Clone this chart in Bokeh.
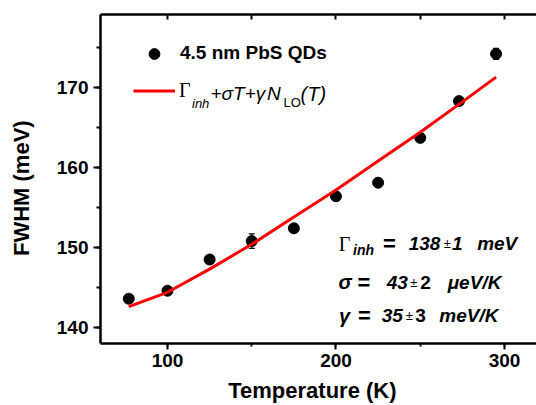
import math
from bokeh.plotting import figure
from bokeh.models import (ColumnDataSource, Range1d, LinearAxis, SingleIntervalTicker,
                          FixedTicker, Whisker, TeeHead, Label, Legend, LegendItem)
from bokeh.embed import file_html
from bokeh.resources import INLINE

# ---- data ----
temperature = [77, 100, 125, 150, 175, 200, 225, 250, 273, 295]
fwhm = [143.6, 144.6, 148.5, 150.8, 152.4, 156.4, 158.1, 163.7, 168.3, 174.2]
fwhm_err = [0.4, 0.4, 0.4, 0.9, 0.4, 0.4, 0.4, 0.4, 0.4, 0.7]
fit_temperature = [77, 100, 125, 150, 175, 200, 225, 250, 275, 295]
fit_fwhm = [142.6, 144.4, 147.3, 150.4, 153.8, 157.2, 160.8, 164.4, 168.2, 171.3]
top_tick_marks = [100, 150, 200, 250, 300]
x_title = "Temperature (K)"
y_title = "FWHM (meV)"
series_label = "4.5 nm PbS QDs"

# ---- layout ----
W, H = 536, 405
FL, FR, FT, FB = 100, 536, 14, 343
X0, X1 = 60.24, 319.0
Y0, Y1 = 138.0, 179.125

def dx(px):
    return X0 + (px - FL) * (X1 - X0) / (FR - FL)

def dy(py):
    return Y0 + (FB - py) * (Y1 - Y0) / (FB - FT)

SANS = "Liberation Sans"
SERIF = "Liberation Serif"
NB = "\u00a0"

p = figure(width=W, height=H, output_backend="svg", toolbar_location=None,
           x_range=Range1d(X0, X1), y_range=Range1d(Y0, Y1),
           min_border_left=FL, min_border_right=W - FR,
           min_border_top=FT, min_border_bottom=H - FB)
p.outline_line_color = None
p.grid.visible = False
p.background_fill_color = "white"
p.border_fill_color = "white"

p.xaxis.ticker = SingleIntervalTicker(interval=100, num_minor_ticks=2)
p.yaxis.ticker = SingleIntervalTicker(interval=10, num_minor_ticks=2)

for ax in (p.xaxis[0], p.yaxis[0]):
    ax.axis_line_width = 2.5
    ax.major_tick_line_width = 2
    ax.minor_tick_line_width = 2
    ax.major_tick_in = 0
    ax.minor_tick_in = 0
    ax.major_label_text_font = SANS
    ax.major_label_text_font_style = "bold"
    ax.major_label_text_font_size = "19px"
    ax.major_label_text_color = "black"
    ax.axis_label_text_font = SANS
    ax.axis_label_text_font_style = "bold"
    ax.axis_label_text_font_size = "22px"
    ax.axis_label_text_color = "black"

p.xaxis.major_tick_out = 6
p.xaxis.minor_tick_out = 3
p.xaxis.major_label_standoff = 4
p.xaxis.axis_label = x_title + NB + NB
p.xaxis.axis_label_standoff = 8

p.yaxis.major_tick_out = 7
p.yaxis.minor_tick_out = 4
p.yaxis.major_label_standoff = 5
p.yaxis.axis_label = y_title + NB + NB + NB
p.yaxis.axis_label_standoff = 20

top = LinearAxis(ticker=FixedTicker(ticks=[], minor_ticks=top_tick_marks),
                 axis_line_width=2.5, minor_tick_line_width=2,
                 major_tick_in=0, major_tick_out=0, minor_tick_in=5, minor_tick_out=0,
                 major_label_standoff=0)
p.add_layout(top, "above")

# ---- data glyphs ----
src = ColumnDataSource(dict(
    T=temperature, G=fwhm,
    lo=[g - e for g, e in zip(fwhm, fwhm_err)],
    hi=[g + e for g, e in zip(fwhm, fwhm_err)]))
p.add_layout(Whisker(source=src, base="T", upper="hi", lower="lo",
                     line_color="black", line_width=1.2,
                     upper_head=TeeHead(size=6, line_width=1.2, line_color="black"),
                     lower_head=TeeHead(size=6, line_width=1.2, line_color="black")))
pts = p.scatter("T", "G", source=src, size=11, color="black")
fit = p.line(fit_temperature, fit_fwhm, line_color="#ff0000", line_width=3)

legend1 = Legend(items=[LegendItem(label=series_label, renderers=[pts])],
                 location=(33, 276.5), padding=0, margin=0, spacing=0,
                 glyph_width=42, glyph_height=27, label_standoff=5,
                 label_text_font=SANS, label_text_font_style="bold",
                 label_text_font_size="19px", label_text_color="black",
                 border_line_color=None, background_fill_alpha=0)
legend2 = Legend(items=[LegendItem(label="\u0393", renderers=[fit])],
                 location=(33, 239.5), padding=0, margin=0, spacing=0,
                 glyph_width=42, glyph_height=27, label_standoff=4,
                 label_text_font=SERIF, label_text_font_style="normal",
                 label_text_font_size="20px", label_text_color="black",
                 border_line_color=None, background_fill_alpha=0)
p.add_layout(legend1)
p.add_layout(legend2)

def add_text(txt, px, py, font=SANS, style="normal", size="19px", align="left",
             baseline="alphabetic"):
    p.add_layout(Label(x=dx(px), y=dy(py), text=txt, text_font=font,
                       text_font_style=style, text_font_size=size,
                       text_align=align, text_baseline=baseline,
                       text_color="black"))

# rest of the legend formula for the fit line
add_text("inh", 191.5, 102.5, style="italic", size="13px")
add_text("+\u03c3T+\u03b3", 210, 93, style="italic", size="19px")
add_text("N", 266.5, 93, style="italic", size="19px")
add_text("LO", 283, 102, size="13px")
add_text("(T)", 300, 93, style="italic", size="20px")

# fit parameters block
rows = [
    (243, [("\u0393", 344, SERIF, "normal", "20px"),
           ("=", 389, SANS, "bold", "22px"),
           ("138", 424, SANS, "bold italic", "19px"),
           ("\u00b1", 446.7, SANS, "normal", "13px"),
           ("1", 456.7, SANS, "bold italic", "19px"),
           ("meV", 496.7, SANS, "bold italic", "19px")]),
    (281.5, [("\u03c3", 344.7, SANS, "bold italic", "20px"),
             ("=", 363.3, SANS, "bold", "22px"),
             ("43", 396.7, SANS, "bold italic", "19px"),
             ("\u00b1", 413.3, SANS, "normal", "13px"),
             ("2", 425, SANS, "bold", "19px"),
             ("\u03bceV/K", 474, SANS, "bold italic", "19px")]),
    (315, [("\u03b3", 344, SANS, "bold italic", "20px"),
           ("=", 364, SANS, "bold", "22px"),
           ("35", 391.7, SANS, "bold italic", "19px"),
           ("\u00b1", 408.7, SANS, "normal", "13px"),
           ("3", 420, SANS, "bold", "19px"),
           ("meV/K", 468.3, SANS, "bold italic", "19px")]),
]
for base, pieces in rows:
    for txt, cx, font, style, size in pieces:
        add_text(txt, cx, base, font=font, style=style, size=size, align="center")
add_text("inh", 363, 249.5, style="bold italic", size="14px", align="center")

open("out.html", "w").write(file_html(p, INLINE))
